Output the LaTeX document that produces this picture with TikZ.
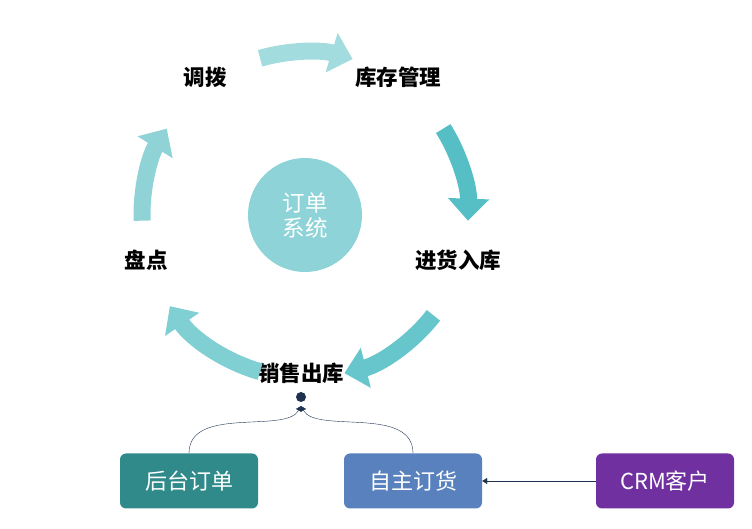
\documentclass[tikz,border=0pt]{standalone}
\usepackage{fontspec}
\setmainfont{Noto Sans CJK SC}
\usepackage{tikz}
\usetikzlibrary{arrows.meta,positioning,calc}

\definecolor{tealA}{HTML}{A3DCDF}
\definecolor{tealB}{HTML}{56BFC6}
\definecolor{tealC}{HTML}{66C6CC}
\definecolor{tealD}{HTML}{7FCFD3}
\definecolor{tealE}{HTML}{8FD3D7}
\definecolor{hubcol}{HTML}{8DD3D7}
\definecolor{darkline}{HTML}{1F3350}
\definecolor{boxteal}{HTML}{318A8A}
\definecolor{boxblue}{HTML}{5881BD}
\definecolor{boxpurple}{HTML}{7030A0}

\begin{document}
\begin{tikzpicture}[x=1pt, y=1pt]
        % Define styles
        \tikzset{
            band/.style={line width=17pt, -{Triangle[width=40pt,length=22pt]}},
            stage/.style={font=\bfseries\fontsize{21.5}{24}\selectfont, text=black},
            box/.style={rectangle, rounded corners=6pt, minimum width=138pt, minimum height=55pt, text=white, font=\fontsize{22}{25}\selectfont},
            link/.style={darkline, thin}
        }
        \useasboundingbox (0,0) rectangle (752,529);

        % Place nodes
        \node[circle, fill=hubcol, minimum size=114pt, text=white, align=center, font=\fontsize{22.5}{25}\selectfont] (hub) at (305,314) {订单\\系统};
        \node[stage] (diaobo) at (205,452) {调拨};
        \node[stage] (kucun) at (398,452) {库存管理};
        \node[stage] (jinhuo) at (458,269) {进货入库};
        \node[stage] (pandian) at (146,269) {盘点};
        \node[stage] (xiaoshou) at (301,156) {销售出库};
        \node[circle, fill=darkline, inner sep=0pt, minimum size=10pt] (dot) at (301,132) {};
        \coordinate (tip) at (301,123);
        \node[box, fill=boxteal] (houtai) at (189,48) {后台订单};
        \node[box, fill=boxblue] (zizhu) at (413,48) {自主订货};
        \node[box, fill=boxpurple] (crm) at (665,48) {CRM客户};

        % Draw cycle arrows
        \draw[band, tealA] ([shift={(106:163)}]305,314) arc (106:73:163);
        \draw[band, tealB] ([shift={(32:163)}]305,314) arc (32:-2:163);
        \draw[band, tealC] ([shift={(-38:163)}]305,314) arc (-38:-76:163);
        \draw[band, tealD] ([shift={(-106:163)}]305,314) arc (-106:-146:163);
        \draw[band, tealE] ([shift={(182:163)}]305,314) arc (182:148:163);

        % Draw connectors
        \draw[link, -{Triangle[width=6pt,length=5pt]}] (houtai.north) .. controls ($(houtai.north)+(0,48)$) and ($(tip)+(-15,-28)$) .. (tip);
        \draw[link, -{Triangle[width=6pt,length=5pt]}] (zizhu.north) .. controls ($(zizhu.north)+(0,48)$) and ($(tip)+(15,-28)$) .. (tip);
        \draw[link, -{Triangle[width=6pt,length=5pt]}] (crm) -- (zizhu);
\end{tikzpicture}
\end{document}
